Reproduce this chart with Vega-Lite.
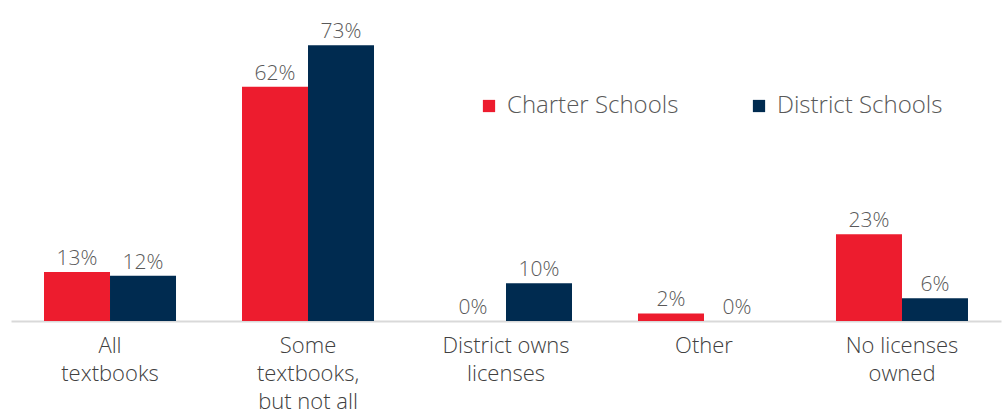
{
  "$schema": "https://vega.github.io/schema/vega-lite/v6.json",
  "width": 990,
  "height": 321,
  "autosize": {"type": "none"},
  "padding": {"left": 11, "top": 0, "right": 5, "bottom": 95},
  "background": "white",
  "config": {"view": {"stroke": null}, "font": "Open Sans"},
  "data": {"values": [
    {"category": "All|textbooks", "school": "Charter Schools", "value": 13},
    {"category": "All|textbooks", "school": "District Schools", "value": 12},
    {"category": "Some|textbooks,|but not all", "school": "Charter Schools", "value": 62},
    {"category": "Some|textbooks,|but not all", "school": "District Schools", "value": 73},
    {"category": "District owns|licenses", "school": "Charter Schools", "value": 0},
    {"category": "District owns|licenses", "school": "District Schools", "value": 10},
    {"category": "Other", "school": "Charter Schools", "value": 2},
    {"category": "Other", "school": "District Schools", "value": 0},
    {"category": "No licenses|owned", "school": "Charter Schools", "value": 23},
    {"category": "No licenses|owned", "school": "District Schools", "value": 6}
  ]},
  "transform": [{"calculate": "datum.value + '%'", "as": "label"}],
  "encoding": {
    "x": {
      "field": "category", "type": "nominal", "sort": null,
      "scale": {"paddingInner": 0.3333, "paddingOuter": 0.1667},
      "axis": {
        "title": null, "labelAngle": 0, "ticks": false,
        "domainColor": "#D9D9D9", "domainWidth": 2,
        "labelExpr": "split(datum.label, '|')",
        "labelFontSize": 22, "labelColor": "#404040", "labelLineHeight": 28,
        "labelPadding": 14, "labelFont": "Open Sans", "labelFontWeight": 300
      }
    },
    "xOffset": {"field": "school", "type": "nominal"},
    "y": {
      "field": "value", "type": "quantitative",
      "scale": {"domain": [0, 85], "nice": false},
      "axis": null
    }
  },
  "layer": [
    {
      "mark": {"type": "bar"},
      "encoding": {
        "color": {
          "field": "school", "type": "nominal",
          "scale": {"domain": ["Charter Schools", "District Schools"], "range": ["#ED1C2E", "#002B50"]},
          "legend": {
            "title": null, "orient": "none", "legendX": 466, "legendY": 94,
            "direction": "horizontal", "symbolType": "square", "symbolSize": 150,
            "symbolStrokeWidth": 0, "labelFontSize": 24, "labelColor": "#595959",
            "labelLimit": 400, "columnPadding": 68, "labelOffset": 6,
            "labelFont": "Open Sans", "labelFontWeight": 300
          }
        }
      }
    },
    {
      "mark": {"type": "text", "baseline": "bottom", "dy": -3, "fontSize": 21, "color": "#595959", "font": "Open Sans", "fontWeight": 300},
      "encoding": {
        "text": {"field": "label", "type": "nominal"},
        "detail": {"field": "school"}
      }
    }
  ]
}
